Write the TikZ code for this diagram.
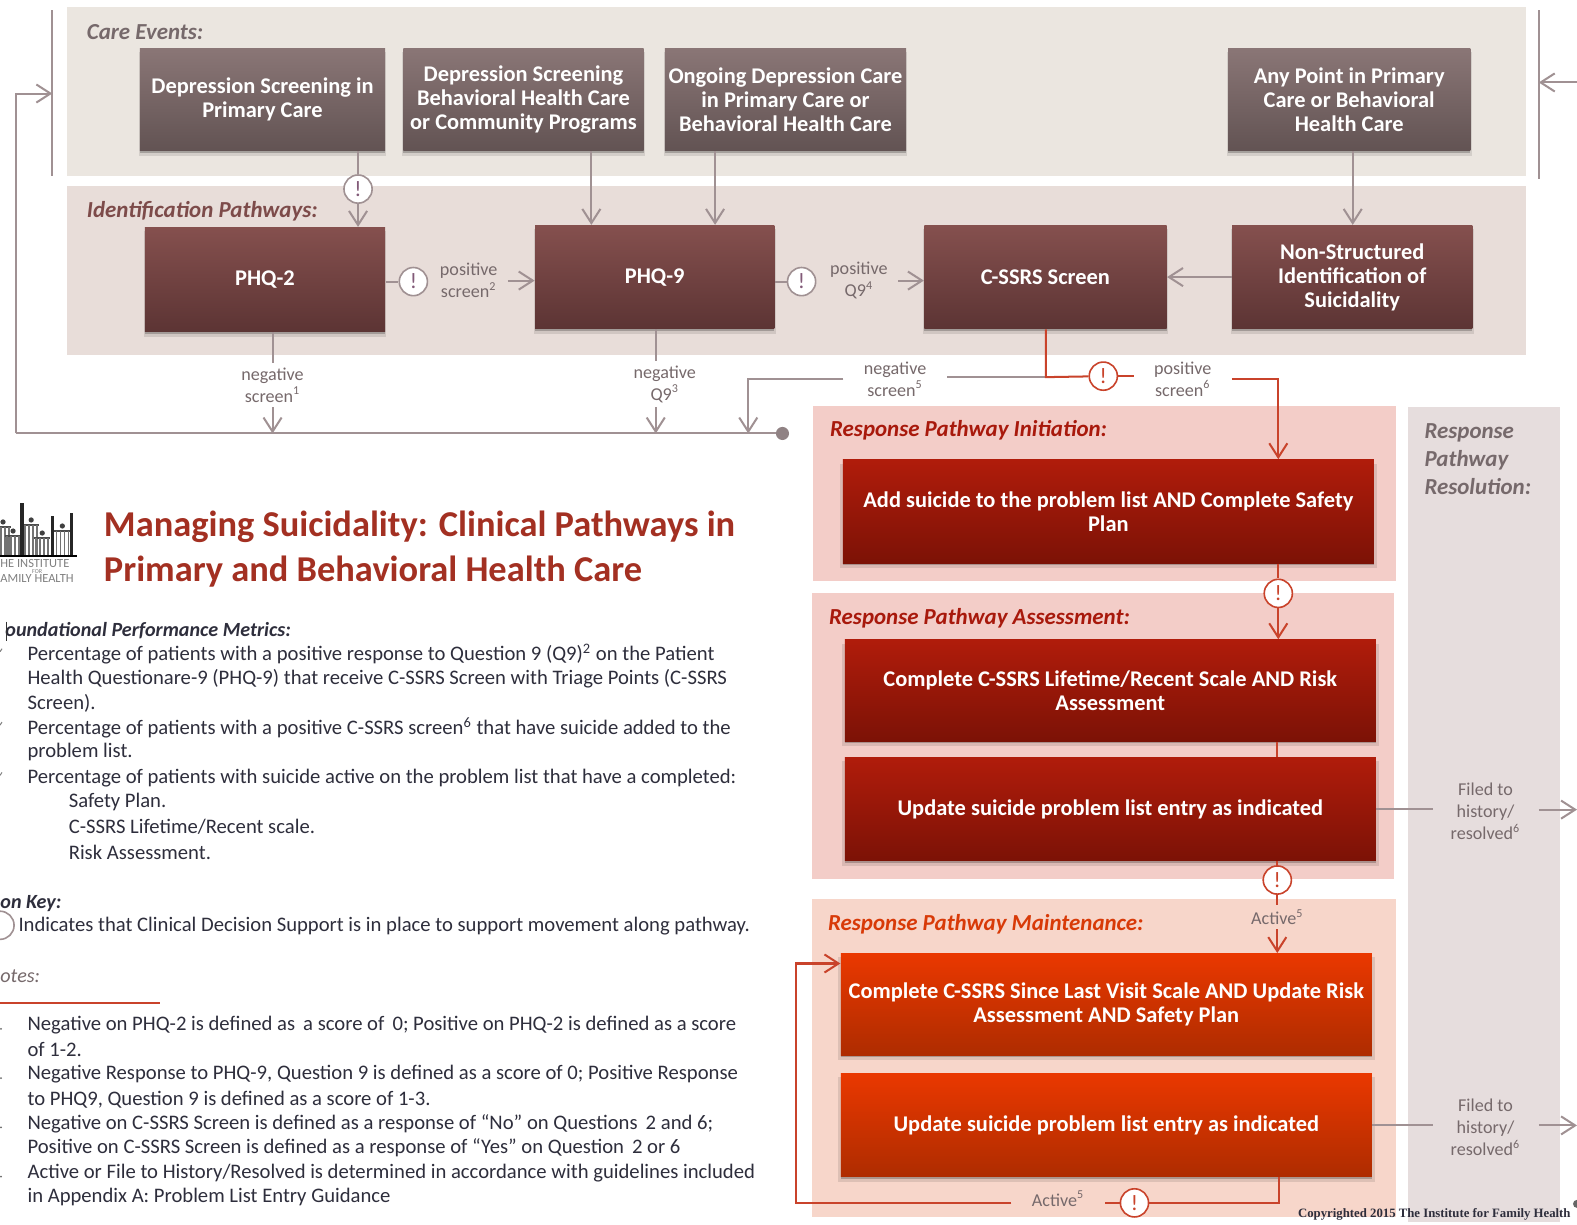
\documentclass[tikz,border=0pt]{standalone}
\usepackage{fontspec}
\setmainfont{Carlito}
\newfontfamily\cprfont{Liberation Serif}
\usetikzlibrary{arrows.meta,shadows,calc}
\definecolor{gline}{HTML}{A09193}
\definecolor{rline}{HTML}{C9432B}
\definecolor{lbl}{HTML}{76696B}
\definecolor{bodyc}{HTML}{2E2E3C}
\definecolor{gt}{HTML}{8A7676}
\definecolor{gm}{HTML}{7D6C6C}
\definecolor{gb}{HTML}{625353}
\definecolor{it}{HTML}{85504E}
\definecolor{im}{HTML}{784645}
\definecolor{ib}{HTML}{5C3434}
\definecolor{rt}{HTML}{B01C0B}
\definecolor{rm}{HTML}{A6180A}
\definecolor{rb}{HTML}{7C1206}
\definecolor{ot}{HTML}{EA3800}
\definecolor{om}{HTML}{DE3500}
\definecolor{ob}{HTML}{AE2C00}
\tikzset{
 x=0.5pt,y=-0.5pt,
 gl/.style={draw=gline,line width=1pt},
 rl/.style={draw=rline,line width=1pt},
 gar/.style={gl,-{Straight Barb[length=7pt,width=9pt]}},
 rar/.style={rl,-{Straight Barb[length=7pt,width=9pt]}},
 boxbase/.style={rectangle,text=white,align=center,inner sep=0pt,
   font=\fontsize{11.15}{12}\selectfont\bfseries,
   general shadow={fill=black,opacity=.10,shadow xshift=0pt,shadow yshift=-2.2pt,shadow scale=1.01},
   general shadow={fill=black,opacity=.22,shadow xshift=0pt,shadow yshift=-1pt}},
 greybox/.style={boxbase,top color=gt,middle color=gm,bottom color=gb},
 idbox/.style={boxbase,top color=it,middle color=im,bottom color=ib},
 redbox/.style={boxbase,top color=rt,middle color=rm,bottom color=rb},
 orbox/.style={boxbase,top color=ot,middle color=om,bottom color=ob},
 alertg/.style={circle,draw=gline,fill=white,line width=.8pt,minimum size=14pt,inner sep=0pt,text={rgb,255:red,130;green,90;blue,120},font=\fontsize{11}{11}\selectfont},
 alertr/.style={alertg,draw=rline,text=rline},
 edgelbl/.style={align=center,text=lbl,inner xsep=5pt,inner ysep=2pt,font=\fontsize{9}{11}\selectfont},
 head/.style={anchor=west,inner sep=0pt,yshift=-1pt,font=\fontsize{11.4}{14}\selectfont\bfseries\itshape},
 bodytxt/.style={anchor=west,inner sep=0pt,yshift=-.7pt,text=bodyc,font=\fontsize{10.27}{11}\selectfont},
 bodyhead/.style={head,text=bodyc,font=\fontsize{10}{11}\selectfont\bfseries\itshape},
}
\begin{document}
\begin{tikzpicture}
\useasboundingbox (0,0) rectangle (1568,1218);
\fill[white] (0,0) rectangle (1568,1218);
% panels
\fill[fill={rgb,255:red,235;green,230;blue,224}] (67,7) rectangle (1517,175);
\fill[fill={rgb,255:red,232;green,221;blue,217}] (67,185) rectangle (1517,353);
\fill[fill={rgb,255:red,243;green,205;blue,200}] (808,404) rectangle (1388,578);
\fill[fill={rgb,255:red,243;green,205;blue,200}] (807,590) rectangle (1386,874);
\fill[fill={rgb,255:red,247;green,214;blue,202}] (807,894) rectangle (1388,1210);
\fill[fill={rgb,255:red,230;green,221;blue,221}] (1400,405) rectangle (1551,1215);
% panel titles
\node[head,text=lbl] (tCare) at (86,30) {Care Events:};
\node[head,text={rgb,255:red,125;green,75;blue,74}] (tId) at (86,208) {Identification Pathways:};
\node[head,text={rgb,255:red,168;green,25;blue,12}] (tIni) at (825,426) {Response Pathway Initiation:};
\node[head,text={rgb,255:red,168;green,25;blue,12}] (tAss) at (824,613) {Response Pathway Assessment:};
\node[head,text={rgb,255:red,216;green,58;blue,8}] (tMai) at (823,917) {Response Pathway Maintenance:};
\node[head,text=lbl,align=left] (tRes) at (1416,454.5) {Response\\Pathway\\Resolution:};
% boxes
\node[greybox,minimum width=122pt,minimum height=51pt] (cA) at (261,99) {Depression Screening in\\Primary Care};
\node[greybox,minimum width=119.5pt,minimum height=51pt] (cB) at (520.5,99) {Depression Screening\\Behavioral Health Care\\or Community Programs};
\node[greybox,minimum width=120pt,minimum height=51pt] (cC) at (781,99) {Ongoing Depression Care\\in Primary Care or\\Behavioral Health Care};
\node[greybox,minimum width=120.5pt,minimum height=51pt] (cD) at (1341.5,99) {Any Point in Primary\\Care or Behavioral\\Health Care};
\node[idbox,minimum width=119.5pt,minimum height=52pt] (phqtwo) at (263.5,278) {PHQ-2};
\node[idbox,minimum width=119pt,minimum height=51.5pt] (phqnine) at (651,275.5) {PHQ-9};
\node[idbox,minimum width=120.5pt,minimum height=51.5pt] (cssrs) at (1039.5,275.5) {C-SSRS Screen};
\node[idbox,minimum width=119.5pt,minimum height=51.5pt] (nonst) at (1344.5,275.5) {Non-Structured\\Identification of\\Suicidality};
\node[redbox,minimum width=264pt,minimum height=51.5pt] (addp) at (1102,508.5) {Add suicide to the problem list AND Complete Safety\\Plan};
\node[redbox,minimum width=264pt,minimum height=50.5pt] (comp) at (1104,686.5) {Complete C-SSRS Lifetime/Recent Scale AND Risk\\Assessment};
\node[redbox,minimum width=264pt,minimum height=51.5pt] (updr) at (1104,804.5) {Update suicide problem list entry as indicated};
\node[orbox,minimum width=264pt,minimum height=50.5pt] (compo) at (1100,998.5) {Complete C-SSRS Since Last Visit Scale AND Update Risk\\Assessment AND Safety Plan};
\node[orbox,minimum width=264pt,minimum height=51.5pt] (updo) at (1100,1118.5) {Update suicide problem list entry as indicated};
% alerts
\node[alertg] (a1) at (356,188) {!};
\node[alertg] (a2) at (411,280) {!};
\node[alertg] (a3) at (797,280) {!};
\node[alertr] (a4) at (1097,374) {!};
\node[alertr] (a5) at (1271,590) {!};
\node[alertr] (a6) at (1270,875) {!};
\node[alertr] (a7) at (1128,1196) {!};
% labels
\node[edgelbl] (lp2) at (466,279) {positive\\screen\textsuperscript{2}};
\node[edgelbl] (lq4) at (854,279) {positive\\Q9\textsuperscript{4}};
\node[edgelbl] (ln1) at (271,383) {negative\\screen\textsuperscript{1}};
\node[edgelbl] (ln3) at (661,382) {negative\\Q9\textsuperscript{3}};
\node[edgelbl,inner xsep=10pt] (ln5) at (890,377) {negative\\screen\textsuperscript{5}};
\node[edgelbl,inner xsep=10pt] (lp6) at (1176,377) {positive\\screen\textsuperscript{6}};
\node[edgelbl] (lact) at (1270,912) {Active\textsuperscript{5}};
\node[edgelbl,inner xsep=10pt] (lact2) at (1052,1192) {Active\textsuperscript{5}};
\node[edgelbl,inner xsep=8.5pt] (lf1) at (1477,807) {Filed to\\history/\\resolved\textsuperscript{6}};
\node[edgelbl,inner xsep=8.5pt] (lf2) at (1477,1121) {Filed to\\history/\\resolved\textsuperscript{6}};
% guide coordinates
\coordinate (xb) at (588,0);
\coordinate (xc) at (711,0);
\coordinate (xd) at (1345,0);
\coordinate (xp2) at (271,0);
\coordinate (xp9) at (652,0);
\coordinate (xj) at (1040,375);
\coordinate (xr) at (1271,377);
\coordinate (xn) at (744,377);
\coordinate (busL) at (16,431);
\coordinate (busR) at (778,431);
\coordinate (loopT) at (16,93);
\coordinate (brL) at (52,93);
\coordinate (brR) at (1530,82);
\coordinate (edgeR) at (1568,82);
\coordinate (fe1) at (1568,805);
\coordinate (fe2) at (1568,1119);
\coordinate (fs1) at (1530,805);
\coordinate (fs2) at (1530,1119);
\coordinate (lb) at (1272,1196);
\coordinate (lc) at (791,1196);
\coordinate (ld) at (791,958);
\node[circle,fill=gline!90!black,minimum size=6.5pt,inner sep=0pt] (dot) at (busR) {};
% brackets
\draw[gl] (52,10) -- (52,175);
\draw[gl] (1530,10) -- (1530,178);
% grey connectors
\draw[gl] (cA.south -| a1) -- (a1);
\draw[gar] (a1) -- (phqtwo.north -| a1);
\draw[gar] (cB.south -| xb) -- (phqnine.north -| xb);
\draw[gar] (cC.south -| xc) -- (phqnine.north -| xc);
\draw[gar] (cD.south -| xd) -- (nonst.north -| xd);
\draw[gl] (phqtwo.east |- a2) -- (a2);
\draw[gar] (lp2.east) -- (lp2.east -| phqnine.west);
\draw[gl] (phqnine.east |- a3) -- (a3);
\draw[gar] (lq4.east) -- (lq4.east -| cssrs.west);
\draw[gar] (nonst.west) -- (cssrs.east);
\draw[gl] (phqtwo.south -| xp2) -- (ln1.north -| xp2);
\draw[gar] (ln1.south -| xp2) -- (busL -| xp2);
\draw[gl] (phqnine.south -| xp9) -- (ln3.north -| xp9);
\draw[gar] (ln3.south -| xp9) -- (busL -| xp9);
\draw[gl] (busL) -- (dot);
\draw[gar] (busL) -- (loopT) -- (brL);
\draw[gar] (edgeR) -- (brR);
\draw[gl] (xj) -- (ln5.east |- xj);
\draw[gar] (ln5.west) -- (xn) -- (busL -| xn);
\draw[gl] (updr.east) -- (lf1.west |- updr);
\draw[gar] (fs1) -- (fe1);
\draw[gl] (updo.east) -- (lf2.west |- updo);
\draw[gar] (fs2) -- (fe2);
% red connectors
\draw[rl] (cssrs.south -| xj) -- (xj) -- (a4);
\draw[rl] (a4) -- (lp6.west |- a4);
\draw[rar] (lp6.east) -- (xr) -- (addp.north -| xr);
\draw[rl] (addp.south -| a5) -- (a5);
\draw[rar] (a5) -- (comp.north -| a5);
\draw[rl] (comp.south -| a6) -- (updr.north -| a6);
\draw[rl] (updr.south -| a6) -- (a6);
\draw[rl] (a6) -- (lact.north -| a6);
\draw[rar] (lact.south -| a6) -- (compo.north -| a6);
\draw[rl] (updo.south -| lb) -- (lb) -- (a7);
\draw[rl] (a7) -- (lact2.east |- a7);
\draw[rar] (lact2.west |- a7) -- (lc) -- (ld) -- (compo.west |- ld);
% title
\node[anchor=west,inner sep=0pt,text={rgb,255:red,163;green,48;blue,34},font=\fontsize{18.1}{22}\selectfont\bfseries,align=left] (title) at (103,546) {Managing Suicidality: Clinical Pathways in\\Primary and Behavioral Health Care};
% logo
\foreach \hx/\hy in {3/519,13/528,31/517,42/530,62/523}{
  \fill[black!75] (\hx,\hy) circle [radius=2.6];
  \draw[black!70,line width=.8pt] (\hx-8,\hy+5) -- (\hx+8,\hy+5);
  \foreach \dx in {-6,-2,2,6}{\draw[black!55,line width=.8pt] (\hx+\dx,\hy+5) -- (\hx+\dx,553);}
}
\draw[black!85,line width=1.7pt] (22,553) -- (22,500);
\draw[black!85,line width=1.7pt] (52,553) -- (52,513);
\draw[black!85,line width=1.7pt] (71,553) -- (71,510);
\draw[black,line width=.9pt] (0,553) -- (77,553);
\node[anchor=west,inner sep=0pt,text=black!50,font=\fontsize{6.2}{6.2}\selectfont] (lg1) at (0,560) {HE INSTITUTE};
\node[inner sep=0pt,text=black!50,font=\fontsize{3}{3}\selectfont] (lg2) at (37,568) {FOR};
\node[anchor=west,inner sep=0pt,text=black!50,font=\fontsize{6.2}{6.2}\selectfont] (lg3) at (0,575) {AMILY HEALTH};
% body text
\node[bodyhead] (h1) at (5,625) {oundational Performance Metrics:};
\draw[black!80,line width=.7pt] (6.5,618) -- (6.5,637);
\foreach \yy in {645,718,768}{\draw[black!50,line width=.5pt] (0,\yy+3) -- (2,\yy);}
\node[bodytxt] (b1) at (27,649) {Percentage of patients with a positive response to Question 9 (Q9)\textsuperscript{2} on the Patient};
\node[bodytxt] (b2) at (27,673) {Health Questionare-9 (PHQ-9) that receive C-SSRS Screen with Triage Points (C-SSRS};
\node[bodytxt] (b3) at (27,698) {Screen).};
\node[bodytxt] (b4) at (27,722) {Percentage of patients with a positive C-SSRS screen\textsuperscript{6} that have suicide added to the};
\node[bodytxt] (b5) at (27,746) {problem list.};
\node[bodytxt] (b6) at (27,772) {Percentage of patients with suicide active on the problem list that have a completed:};
\node[bodytxt] (b7) at (68,796) {Safety Plan.};
\node[bodytxt] (b8) at (68,821) {C-SSRS Lifetime/Recent scale.};
\node[bodytxt] (b9) at (68,846) {Risk Assessment.};
\node[bodyhead] (h2) at (0,896) {on Key:};
\node[circle,draw=gline,line width=.8pt,minimum size=14pt,inner sep=0pt] (kc) at (0,920) {};
\node[bodytxt] (k1) at (18,919) {Indicates that Clinical Decision Support is in place to support movement along pathway.};
\node[bodyhead,text=lbl,font=\fontsize{10}{11}\selectfont\itshape] (h3) at (0,969) {otes:};
\coordinate (nl) at (0,997);
\coordinate (nr) at (159,997);
\draw[rline,line width=.9pt] (nl) -- (nr);
\foreach \yy in {1023,1072,1121,1170}{\fill[black!60] (1,\yy) circle [radius=1];}
\node[bodytxt] (n1) at (27,1018) {Negative on PHQ-2 is defined as\, a score of\, 0; Positive on PHQ-2 is defined as a score};
\node[bodytxt] (n2) at (27,1042) {of 1-2.};
\node[bodytxt] (n3) at (27,1067) {Negative Response to PHQ-9, Question 9 is defined as a score of 0; Positive Response};
\node[bodytxt] (n4) at (27,1092) {to PHQ9, Question 9 is defined as a score of 1-3.};
\node[bodytxt] (n5) at (27,1116) {Negative on C-SSRS Screen is defined as a response of “No” on Questions\, 2 and 6;};
\node[bodytxt] (n6) at (27,1140) {Positive on C-SSRS Screen is defined as a response of “Yes” on Question\, 2 or 6};
\node[bodytxt] (n7) at (27,1165) {Active or File to History/Resolved is determined in accordance with guidelines included};
\node[bodytxt] (n8) at (27,1189) {in Appendix A: Problem List Entry Guidance};
\node[anchor=east,inner sep=0pt,text=bodyc,font=\cprfont\fontsize{6.35}{8}\selectfont\bfseries] (cpr) at (1562,1207) {Copyrighted 2015 The Institute for Family Health};
\fill[black!60] (1568,1197) circle [radius=4];
\end{tikzpicture}
\end{document}
